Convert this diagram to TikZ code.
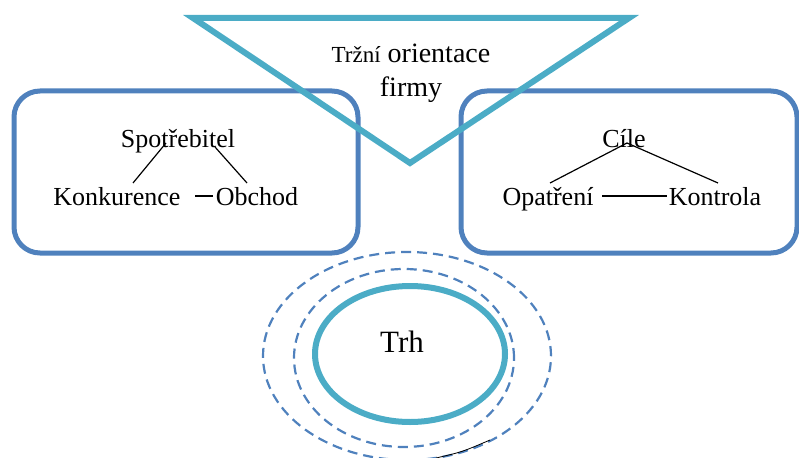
\documentclass[tikz,border=0pt]{standalone}
\usepackage{fontspec}
\setmainfont{Liberation Serif}
\usetikzlibrary{shapes.geometric}
\definecolor{boxblue}{RGB}{79,129,189}
\definecolor{trhteal}{RGB}{75,172,198}

\begin{document}
\begin{tikzpicture}[x=1pt,y=-1pt,line join=round,
  panel/.style={draw=boxblue,line width=5pt,rounded corners=26pt},
  ring/.style={draw=boxblue,line width=2.2pt,dash pattern=on 10pt off 6pt},
  label/.style={font=\fontsize{26}{30}\selectfont,inner sep=0pt,anchor=base},
  tie/.style={line width=1.2pt}]
\useasboundingbox (0,0) rectangle (799,457);
% --- side panels
\draw[panel] (14,91) rectangle (358,253);
\draw[panel] (461,91) rectangle (797,253);
% --- funnel on top
\draw[trhteal,line width=6pt,line join=miter] (193,18) -- (629,18) -- (410,163) -- cycle;
\node[align=center,anchor=base,inner sep=0pt,font=\fontsize{28}{34}\selectfont] (title) at (411,97) {{\fontsize{23}{28}\selectfont Tržní} orientace\\firmy};
% left panel
\node[label] (spot) at (178,147) {Spotřebitel};
\node[label] (konk) at (117,205) {Konkurence};
\node[label] (obch) at (257,205) {Obchod};
\coordinate (k1) at (133,183); \coordinate (s1) at (166,143);
\coordinate (s2) at (215,147); \coordinate (o1) at (247,183);
\coordinate (d1) at (195,196); \coordinate (d2) at (213,196);
\draw[tie] (k1) -- (s1); \draw[tie] (s2) -- (o1); \draw[tie] (d1) -- (d2);
% right panel
\node[label] (cile) at (624,147) {Cíle};
\node[label] (opat) at (548,205) {Opatření};
\node[label] (kont) at (715,205) {Kontrola};
\coordinate (p1) at (550,183); \coordinate (c1) at (627,143);
\coordinate (t1) at (718,183);
\coordinate (h1) at (602,196); \coordinate (h2) at (667,196);
\draw[tie] (p1) -- (c1) -- (t1); \draw[tie] (h1) -- (h2);
% --- market rings
\draw[ring] (407,356) ellipse [x radius=144pt,y radius=104pt];
\draw[ring] (404,358) ellipse [x radius=110pt,y radius=89pt];
\node[ellipse,draw=trhteal,line width=6pt,minimum width=190pt,minimum height=136pt] (trh) at (410,354) {};
\node[inner sep=0pt,anchor=base,font=\fontsize{31}{36}\selectfont] (trhtext) at (402,352) {Trh};
\draw[line width=0.8pt] (436,458) .. controls (462,452) .. (490,440);
\end{tikzpicture}
\end{document}
